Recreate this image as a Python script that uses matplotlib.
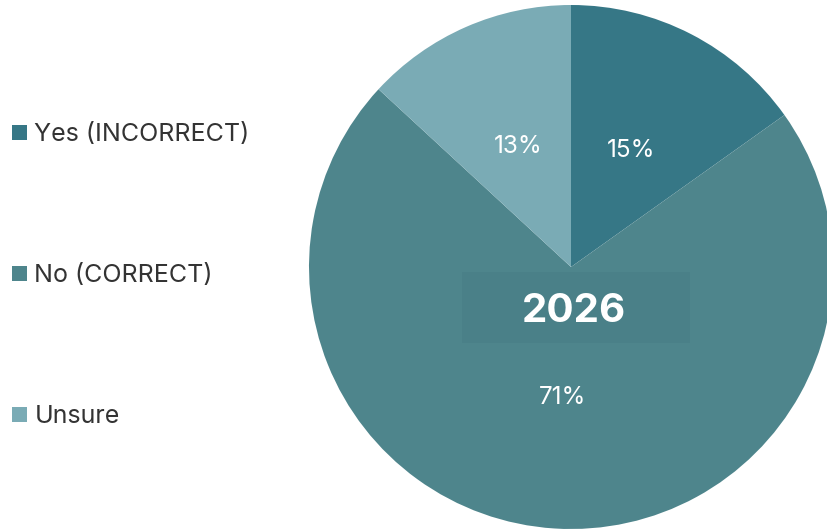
import matplotlib.pyplot as plt
from matplotlib.patches import Rectangle

# data
labels = ['Yes (INCORRECT)', 'No (CORRECT)', 'Unsure']
values = [15, 71, 13]
colors = ['#367786', '#4e858c', '#7aabb5']
center_label = '2026'

plt.rcParams['font.family'] = ['Inter', 'DejaVu Sans']

W, H = 828, 529
fig = plt.figure(figsize=(W / 100, H / 100), dpi=100)
ax = fig.add_axes([0, 0, 1, 1])

total = sum(values)
wedges, _, autotexts = ax.pie(
    values, colors=colors, startangle=90, counterclock=False,
    center=(571, 262), radius=262, frame=True,
    autopct=lambda p: f'{round(p * total / 100):.0f}%', pctdistance=0.5,
    textprops=dict(color='white', fontsize=17.5),
    wedgeprops=dict(linewidth=0))
ax.set_xlim(0, W)
ax.set_ylim(0, H)
ax.set_aspect('equal')
ax.axis('off')

# center year box
ax.add_patch(Rectangle((462, 186), 228, 71, facecolor='#4a8088', edgecolor='none', zorder=3))
ax.text(574, 218, center_label, ha='center', va='center', color='white',
        fontsize=29, fontweight='bold', zorder=4)

leg = fig.legend(wedges, labels, loc='upper left', bbox_to_anchor=(0.006, 0.781),
                 frameon=False, fontsize=18, labelspacing=4.72,
                 handlelength=0.6, handleheight=0.6, handletextpad=0.28,
                 borderaxespad=0, borderpad=0.3)
for t in leg.get_texts():
    t.set_color('#333333')

fig.savefig('out.png', dpi=100)
